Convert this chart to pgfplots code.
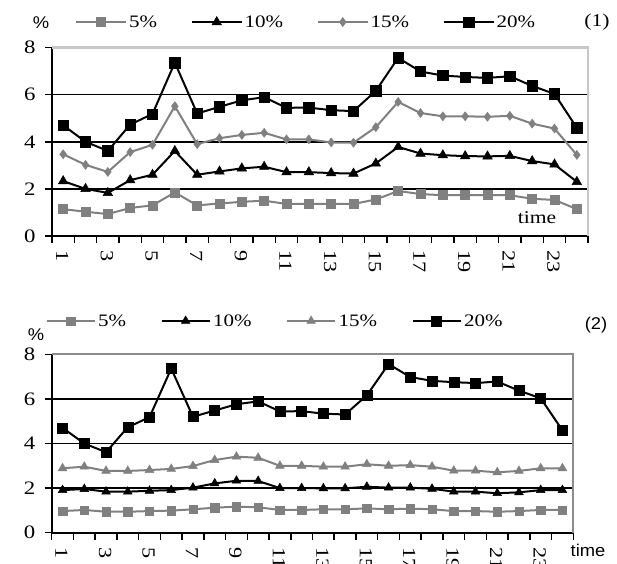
\documentclass[border=0pt]{standalone}
\usepackage{pgfplots}
\pgfplotsset{compat=1.18}
\usepackage{pgfplotstable}
\usepackage{fontspec}
\setmainfont[FakeStretch=1.2]{Liberation Serif}
\newfontfamily\arialf[FakeStretch=1.08]{Liberation Sans}
\definecolor{sgray}{RGB}{128,128,128}
\definecolor{bonegray}{RGB}{200,200,200}
\definecolor{btwogray}{RGB}{140,140,140}

\pgfplotstableread{
t a b c d
1 1.14 2.33 3.47 4.70
2 1.03 2.00 3.02 4.00
3 0.93 1.83 2.72 3.61
4 1.19 2.37 3.56 4.73
5 1.30 2.60 3.87 5.18
6 1.85 3.61 5.51 7.36
7 1.30 2.60 3.90 5.20
8 1.38 2.74 4.15 5.48
9 1.45 2.87 4.29 5.76
10 1.50 2.94 4.38 5.89
11 1.36 2.71 4.10 5.44
12 1.36 2.71 4.10 5.45
13 1.36 2.67 3.97 5.34
14 1.36 2.65 3.96 5.30
15 1.55 3.08 4.62 6.16
16 1.91 3.78 5.69 7.56
17 1.78 3.50 5.22 6.98
18 1.73 3.43 5.08 6.81
19 1.73 3.39 5.08 6.75
20 1.73 3.38 5.06 6.71
21 1.73 3.40 5.10 6.78
22 1.58 3.18 4.77 6.37
23 1.53 3.04 4.56 6.03
24 1.14 2.30 3.44 4.59
}\pone

\pgfplotstableread{
t a b c d
1 0.97 1.91 2.89 4.70
2 1.02 1.96 2.96 4.00
3 0.94 1.84 2.77 3.61
4 0.94 1.84 2.77 4.73
5 0.97 1.88 2.81 5.18
6 0.99 1.91 2.86 7.36
7 1.05 2.02 2.99 5.20
8 1.12 2.21 3.26 5.48
9 1.17 2.33 3.41 5.76
10 1.14 2.32 3.36 5.89
11 1.02 2.00 3.00 5.44
12 1.02 2.00 3.00 5.45
13 1.05 1.99 2.96 5.34
14 1.05 1.99 2.96 5.30
15 1.09 2.06 3.07 6.16
16 1.05 2.02 3.00 7.56
17 1.08 2.02 3.03 6.98
18 1.05 1.97 2.96 6.81
19 0.97 1.84 2.78 6.75
20 0.97 1.84 2.78 6.71
21 0.94 1.77 2.71 6.78
22 0.97 1.81 2.77 6.37
23 1.02 1.91 2.89 6.03
24 1.02 1.91 2.89 4.59
}\ptwo

\pgfplotsset{
  base/.style={
    scale only axis, clip=false,
    xmin=0.5, xmax=24.5, ymin=0, ymax=8,
    axis x line=bottom, axis y line=left,
    axis line style={-, line width=1.8pt, black},
    tick align=outside, major tick length=7pt,
    tick style={black, line width=1.5pt},
    /pgf/number format/assume math mode=true,
    ytick={0,2,4,6,8},
    ymajorgrids, major grid style={black, line width=1.6pt},
    xtick={0.5,1.5,...,24.5}, xticklabels={},
    extra x ticks={1,3,...,23},
    extra x tick style={major tick length=0pt, tick style={draw=none},
      xticklabel style={xshift=-1pt, yshift=-11pt, rotate=-90, anchor=west, font=\fontsize{18.5}{18.5}\selectfont}},
    yticklabel style={xshift=-6pt, anchor=east, font=\fontsize{19}{19}\selectfont},
    legend columns=4,
    legend image code/.code={\draw[mark repeat=2,mark phase=2,#1] plot coordinates {(0pt,0pt) (25pt,0pt) (50pt,0pt)};},
  }
}

\begin{document}
\begin{tikzpicture}
% ---------- panel 1 ----------
\begin{axis}[base, at={(52pt,327pt)}, anchor=south west, width=536pt, height=188.5pt,
  legend style={draw=none, fill=none, at={(0.043,1.135)}, anchor=west, inner sep=0pt,
    font=\fontsize{17.5}{17.5}\selectfont, nodes={inner xsep=2pt, inner ysep=0pt},
    /tikz/every even column/.append style={column sep=31.5pt}}]
\addplot[sgray, line width=2pt, mark=square*, mark size=4.5pt, mark options={solid, fill=sgray, line width=0.5pt}] table[x=t,y=a] {\pone};
\addplot[black, line width=2pt, mark=triangle*, mark size=5.5pt, mark options={solid, fill=black, line width=0.5pt}] table[x=t,y=b] {\pone};
\addplot[sgray, line width=2pt, mark=diamond*, mark size=4.5pt, mark options={solid, fill=sgray, line width=0.5pt}] table[x=t,y=c] {\pone};
\addplot[black, line width=2pt, mark=square*, mark size=5.2pt, mark options={solid, fill=black, line width=0.5pt}] table[x=t,y=d] {\pone};
\legend{5\%,10\%,15\%,20\%}
\draw[bonegray, line width=2.6pt] (rel axis cs:0,1) -- (rel axis cs:1,1) -- (rel axis cs:1,0);
\end{axis}
% ---------- panel 2 ----------
\begin{axis}[base, at={(51.7pt,30.3pt)}, anchor=south west, width=521.6pt, height=178.4pt,
  legend style={draw=none, fill=none, at={(-0.012,1.187)}, anchor=west, inner sep=0pt,
    font=\fontsize{17.5}{17.5}\selectfont, nodes={inner xsep=2.5pt, inner ysep=0pt},
    /tikz/every even column/.append style={column sep=32pt}},
  legend image code/.code={\draw[mark repeat=2,mark phase=2,#1] plot coordinates {(0pt,0pt) (24pt,0pt) (48pt,0pt)};}]
\addplot[sgray, line width=2pt, mark=square*, mark size=4.2pt, mark options={solid, fill=sgray, line width=0.5pt}] table[x=t,y=a] {\ptwo};
\addplot[black, line width=2pt, mark=triangle*, mark size=5pt, mark options={solid, fill=black, line width=0.5pt}] table[x=t,y=b] {\ptwo};
\addplot[sgray, line width=2pt, mark=triangle*, mark size=5pt, mark options={solid, fill=sgray, line width=0.5pt}] table[x=t,y=c] {\ptwo};
\addplot[black, line width=2pt, mark=square*, mark size=5pt, mark options={solid, fill=black, line width=0.5pt}] table[x=t,y=d] {\ptwo};
\legend{5\%,10\%,15\%,20\%}
\draw[btwogray, line width=2.2pt] (rel axis cs:0,1) -- (rel axis cs:1,1) -- (rel axis cs:1,0);
\end{axis}
% ---------- text ----------
\node[font=\arialf\fontsize{17}{17}\selectfont] at (41pt,540pt) {\%};
\node[font=\fontsize{18}{18}\selectfont] at (597pt,541pt) {(1)};
\node[font=\fontsize{18}{18}\selectfont] at (537pt,345pt) {time};
\node[font=\arialf\fontsize{17}{17}\selectfont] at (36pt,228pt) {\%};
\node[font=\arialf\fontsize{17}{17}\selectfont] at (596pt,238pt) {(2)};
\node[font=\arialf\fontsize{17}{17}\selectfont] at (588pt,13pt) {time};
\pgfresetboundingbox
\useasboundingbox (0pt,0pt) rectangle (617pt,563pt);
\end{tikzpicture}
\end{document}
